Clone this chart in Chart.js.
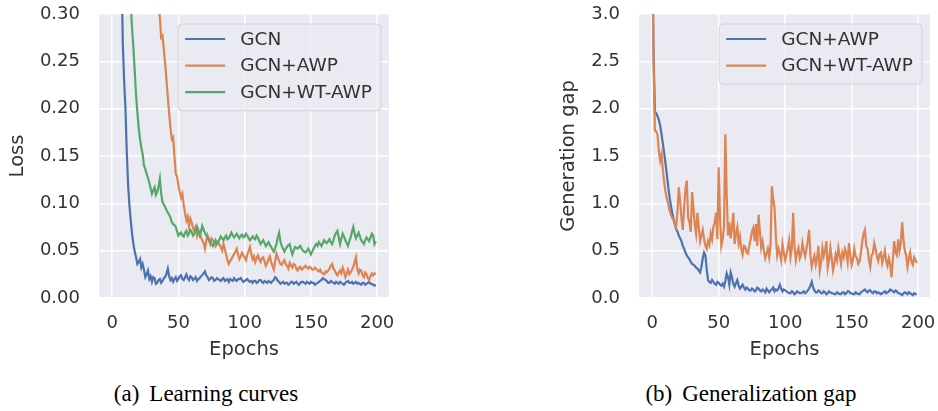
<!DOCTYPE html>
<html>
<head>
<meta charset="utf-8">
<script src="https://cdn.jsdelivr.net/npm/chart.js@4/dist/chart.umd.min.js"></script>
<style>
  html, body { margin: 0; padding: 0; background: #fff; overflow: hidden; }
  body { width: 938px; height: 411px; position: relative; }
  .panel { position: absolute; top: 0; height: 370px; }
  .caption { position: absolute; top: 382px; width: 320px; text-align: center; font-family: 'Liberation Serif', 'Times New Roman', serif; font-size: 23px; line-height: 23px; color: #000; white-space: nowrap; }
  .caption .lab { margin-right: 10px; }
</style>
</head>
<body>
<div class="panel" style="left:0;width:420px"><canvas id="chartA" width="420" height="370"></canvas></div>
<div class="panel" style="left:540px;width:410px"><canvas id="chartB" width="410" height="370"></canvas></div>
<div class="caption" style="left:46px"><span class="lab">(a)</span>Learning curves</div>
<div class="caption" style="left:591px"><span class="lab">(b)</span>Generalization gap</div>
<script>
// Epochs 0 .. 199
const epochs = [
  0, 1, 2, 3, 4, 5, 6, 7, 8, 9, 10, 11, 12, 13, 14, 15, 16, 17, 18, 19,
  20, 21, 22, 23, 24, 25, 26, 27, 28, 29, 30, 31, 32, 33, 34, 35, 36, 37, 38, 39,
  40, 41, 42, 43, 44, 45, 46, 47, 48, 49, 50, 51, 52, 53, 54, 55, 56, 57, 58, 59,
  60, 61, 62, 63, 64, 65, 66, 67, 68, 69, 70, 71, 72, 73, 74, 75, 76, 77, 78, 79,
  80, 81, 82, 83, 84, 85, 86, 87, 88, 89, 90, 91, 92, 93, 94, 95, 96, 97, 98, 99,
  100, 101, 102, 103, 104, 105, 106, 107, 108, 109, 110, 111, 112, 113, 114, 115, 116, 117, 118, 119,
  120, 121, 122, 123, 124, 125, 126, 127, 128, 129, 130, 131, 132, 133, 134, 135, 136, 137, 138, 139,
  140, 141, 142, 143, 144, 145, 146, 147, 148, 149, 150, 151, 152, 153, 154, 155, 156, 157, 158, 159,
  160, 161, 162, 163, 164, 165, 166, 167, 168, 169, 170, 171, 172, 173, 174, 175, 176, 177, 178, 179,
  180, 181, 182, 183, 184, 185, 186, 187, 188, 189, 190, 191, 192, 193, 194, 195, 196, 197, 198, 199,
];

// (a) Learning curves
const gcnLoss = [
  1.60, 1.32, 1.10, 0.91, 0.75, 0.58, 0.45, 0.35, 0.27, 0.23,
  0.201, 0.155, 0.12, 0.098, 0.082, 0.068, 0.057, 0.049, 0.043, 0.036,
  0.038, 0.041, 0.032, 0.036, 0.030, 0.022, 0.025, 0.029, 0.020, 0.023,
  0.017, 0.022, 0.021, 0.015, 0.016, 0.019, 0.020, 0.016, 0.018, 0.021,
  0.022, 0.026, 0.031, 0.023, 0.019, 0.021, 0.017, 0.020, 0.022, 0.018,
  0.020, 0.023, 0.024, 0.020, 0.019, 0.022, 0.025, 0.021, 0.019, 0.023,
  0.022, 0.019, 0.020, 0.022, 0.018, 0.020, 0.021, 0.023, 0.024, 0.026,
  0.028, 0.024, 0.022, 0.019, 0.020, 0.022, 0.021, 0.018, 0.019, 0.021,
  0.020, 0.019, 0.018, 0.020, 0.021, 0.018, 0.019, 0.020, 0.017, 0.020,
  0.019, 0.018, 0.021, 0.019, 0.018, 0.020, 0.020, 0.021, 0.019, 0.017,
  0.018, 0.019, 0.020, 0.018, 0.017, 0.018, 0.016, 0.018, 0.018, 0.016,
  0.017, 0.019, 0.019, 0.017, 0.016, 0.018, 0.017, 0.016, 0.018, 0.017,
  0.016, 0.018, 0.019, 0.022, 0.021, 0.018, 0.017, 0.015, 0.016, 0.017,
  0.015, 0.016, 0.016, 0.014, 0.015, 0.017, 0.017, 0.015, 0.016, 0.017,
  0.015, 0.014, 0.016, 0.017, 0.017, 0.016, 0.015, 0.017, 0.016, 0.015,
  0.017, 0.016, 0.016, 0.014, 0.015, 0.016, 0.017, 0.018, 0.019, 0.021,
  0.020, 0.019, 0.018, 0.016, 0.016, 0.018, 0.017, 0.016, 0.015, 0.017,
  0.016, 0.015, 0.017, 0.016, 0.015, 0.014, 0.016, 0.017, 0.018, 0.016,
  0.016, 0.017, 0.015, 0.016, 0.017, 0.015, 0.016, 0.015, 0.014, 0.016,
  0.016, 0.014, 0.015, 0.016, 0.017, 0.015, 0.015, 0.014, 0.013, 0.014,
];
const awpLoss = [
  2.40, 2.25, 2.10, 1.97, 1.85, 1.73, 1.62, 1.52, 1.42, 1.33,
  1.25, 1.17, 1.10, 1.03, 0.97, 0.91, 0.86, 0.81, 0.76, 0.71,
  0.67, 0.63, 0.60, 0.56, 0.53, 0.50, 0.48, 0.45, 0.43, 0.41,
  0.39, 0.375, 0.36, 0.34, 0.325, 0.31, 0.296, 0.275, 0.277, 0.262,
  0.247, 0.230, 0.212, 0.195, 0.180, 0.168, 0.170, 0.150, 0.131, 0.128,
  0.119, 0.112, 0.106, 0.110, 0.098, 0.090, 0.082, 0.086, 0.076, 0.084,
  0.080, 0.074, 0.071, 0.075, 0.066, 0.072, 0.069, 0.064, 0.061, 0.058,
  0.052, 0.060, 0.066, 0.061, 0.057, 0.063, 0.061, 0.058, 0.055, 0.060,
  0.059, 0.056, 0.054, 0.050, 0.057, 0.052, 0.046, 0.040, 0.036, 0.039,
  0.041, 0.044, 0.046, 0.049, 0.052, 0.046, 0.041, 0.044, 0.048, 0.045,
  0.043, 0.040, 0.046, 0.050, 0.054, 0.047, 0.041, 0.044, 0.038, 0.042,
  0.045, 0.041, 0.038, 0.042, 0.043, 0.039, 0.034, 0.037, 0.041, 0.044,
  0.038, 0.034, 0.030, 0.039, 0.047, 0.043, 0.039, 0.036, 0.035, 0.038,
  0.040, 0.036, 0.034, 0.031, 0.037, 0.034, 0.032, 0.036, 0.035, 0.031,
  0.029, 0.032, 0.033, 0.030, 0.031, 0.033, 0.034, 0.032, 0.031, 0.033,
  0.032, 0.030, 0.030, 0.032, 0.031, 0.029, 0.028, 0.030, 0.027, 0.026,
  0.025, 0.028, 0.027, 0.029, 0.031, 0.034, 0.036, 0.031, 0.029, 0.026,
  0.024, 0.027, 0.029, 0.026, 0.032, 0.028, 0.022, 0.026, 0.030, 0.025,
  0.027, 0.030, 0.033, 0.038, 0.043, 0.031, 0.026, 0.030, 0.029, 0.024,
  0.022, 0.027, 0.025, 0.021, 0.019, 0.023, 0.026, 0.024, 0.026, 0.025,
];
const wtLoss = [
  2.00, 1.73, 1.50, 1.29, 1.10, 0.94, 0.80, 0.69, 0.60, 0.52,
  0.46, 0.41, 0.37, 0.34, 0.31, 0.285, 0.265, 0.240, 0.215, 0.196,
  0.180, 0.168, 0.159, 0.152, 0.140, 0.136, 0.131, 0.127, 0.122, 0.116,
  0.110, 0.114, 0.117, 0.109, 0.112, 0.118, 0.126, 0.110, 0.101, 0.099,
  0.096, 0.093, 0.090, 0.088, 0.085, 0.080, 0.078, 0.077, 0.075, 0.070,
  0.066, 0.068, 0.069, 0.066, 0.065, 0.069, 0.071, 0.066, 0.068, 0.072,
  0.070, 0.066, 0.068, 0.071, 0.075, 0.070, 0.066, 0.070, 0.076, 0.072,
  0.069, 0.066, 0.064, 0.062, 0.059, 0.057, 0.055, 0.058, 0.061, 0.057,
  0.059, 0.062, 0.065, 0.063, 0.061, 0.064, 0.066, 0.062, 0.063, 0.066,
  0.069, 0.066, 0.064, 0.066, 0.068, 0.065, 0.063, 0.066, 0.067, 0.064,
  0.065, 0.068, 0.066, 0.063, 0.061, 0.063, 0.065, 0.063, 0.062, 0.066,
  0.064, 0.060, 0.057, 0.059, 0.061, 0.058, 0.055, 0.057, 0.059, 0.056,
  0.054, 0.051, 0.049, 0.053, 0.057, 0.064, 0.069, 0.060, 0.055, 0.052,
  0.049, 0.052, 0.054, 0.056, 0.057, 0.051, 0.046, 0.050, 0.054, 0.053,
  0.052, 0.054, 0.055, 0.052, 0.050, 0.049, 0.048, 0.050, 0.052, 0.049,
  0.046, 0.049, 0.052, 0.055, 0.057, 0.055, 0.059, 0.057, 0.055, 0.058,
  0.061, 0.059, 0.058, 0.060, 0.062, 0.059, 0.057, 0.061, 0.066, 0.069,
  0.071, 0.064, 0.057, 0.063, 0.068, 0.065, 0.061, 0.058, 0.055, 0.060,
  0.064, 0.070, 0.075, 0.068, 0.063, 0.066, 0.069, 0.065, 0.061, 0.059,
  0.057, 0.061, 0.064, 0.062, 0.060, 0.064, 0.068, 0.066, 0.057, 0.060,
];

// (b) Generalization gap
const awpGap = [
  3.80, 2.60, 1.97, 1.95, 1.92, 1.88, 1.82, 1.73, 1.63, 1.53,
  1.42, 1.30, 1.18, 1.07, 0.98, 0.90, 0.84, 0.78, 0.73, 0.70,
  0.66, 0.63, 0.60, 0.55, 0.52, 0.48, 0.45, 0.43, 0.41, 0.38,
  0.36, 0.35, 0.34, 0.32, 0.31, 0.29, 0.27, 0.33, 0.42, 0.48,
  0.45, 0.30, 0.19, 0.17, 0.16, 0.19, 0.17, 0.15, 0.14, 0.17,
  0.16, 0.14, 0.13, 0.15, 0.12, 0.18, 0.26, 0.22, 0.14, 0.27,
  0.22, 0.15, 0.12, 0.16, 0.19, 0.13, 0.10, 0.12, 0.14, 0.11,
  0.09, 0.11, 0.10, 0.08, 0.08, 0.10, 0.09, 0.07, 0.08, 0.11,
  0.10, 0.08, 0.07, 0.09, 0.08, 0.06, 0.10, 0.08, 0.06, 0.08,
  0.09, 0.11, 0.07, 0.09, 0.08, 0.10, 0.14, 0.10, 0.07, 0.09,
  0.08, 0.07, 0.06, 0.05, 0.05, 0.07, 0.06, 0.04, 0.05, 0.07,
  0.06, 0.05, 0.05, 0.06, 0.07, 0.05, 0.06, 0.08, 0.10, 0.13,
  0.17, 0.11, 0.08, 0.06, 0.06, 0.08, 0.07, 0.05, 0.05, 0.07,
  0.06, 0.04, 0.05, 0.07, 0.06, 0.05, 0.05, 0.04, 0.04, 0.06,
  0.05, 0.04, 0.04, 0.06, 0.06, 0.04, 0.05, 0.07, 0.07, 0.05,
  0.05, 0.04, 0.04, 0.06, 0.05, 0.04, 0.04, 0.06, 0.07, 0.08,
  0.09, 0.07, 0.06, 0.08, 0.08, 0.06, 0.05, 0.07, 0.07, 0.05,
  0.06, 0.05, 0.04, 0.05, 0.06, 0.07, 0.05, 0.06, 0.07, 0.09,
  0.08, 0.07, 0.06, 0.08, 0.07, 0.05, 0.05, 0.04, 0.03, 0.05,
  0.06, 0.05, 0.04, 0.06, 0.05, 0.04, 0.03, 0.05, 0.04, 0.04,
];
const wtGap = [
  3.90, 2.50, 1.77, 1.76, 1.72, 1.55, 1.45, 1.52, 1.35, 1.22,
  1.12, 1.05, 1.00, 0.93, 0.88, 0.85, 0.82, 0.78, 0.75, 0.92,
  1.17, 1.02, 0.84, 0.72, 0.96, 1.15, 1.24, 0.85, 0.80, 0.70,
  1.12, 0.95, 0.78, 0.68, 0.90, 0.75, 0.60, 0.66, 0.72, 0.62,
  0.55, 0.52, 0.60, 0.56, 0.68, 0.62, 0.75, 0.80, 0.90, 0.62,
  1.38, 0.85, 0.55, 0.62, 0.75, 1.73, 1.10, 0.66, 0.80, 0.63,
  0.75, 0.90, 0.57, 0.68, 0.75, 0.58, 0.65, 0.52, 0.46, 0.55,
  0.54, 0.48, 0.47, 0.55, 0.62, 0.70, 0.74, 0.60, 0.78, 0.55,
  0.88, 0.70, 0.53, 0.60, 0.50, 0.42, 0.47, 0.52, 0.43, 0.55,
  1.18, 1.05, 0.95, 0.65, 0.45, 0.52, 0.47, 0.40, 0.57, 0.48,
  0.40, 0.46, 0.53, 0.61, 0.43, 0.52, 0.90, 0.55, 0.40, 0.48,
  0.53, 0.42, 0.46, 0.58, 0.50, 0.44, 0.52, 0.60, 0.72, 0.45,
  0.33, 0.40, 0.45, 0.35, 0.42, 0.55, 0.29, 0.38, 0.53, 0.44,
  0.50, 0.60, 0.32, 0.40, 0.53, 0.42, 0.29, 0.36, 0.46, 0.40,
  0.53, 0.45, 0.36, 0.48, 0.43, 0.52, 0.48, 0.38, 0.58, 0.45,
  0.35, 0.41, 0.52, 0.44, 0.42, 0.36, 0.39, 0.48, 0.60, 0.68,
  0.72, 0.55, 0.52, 0.40, 0.33, 0.45, 0.47, 0.58, 0.52, 0.44,
  0.39, 0.46, 0.48, 0.37, 0.43, 0.50, 0.39, 0.34, 0.42, 0.36,
  0.22, 0.40, 0.60, 0.48, 0.45, 0.62, 0.50, 0.58, 0.80, 0.62,
  0.50, 0.45, 0.33, 0.42, 0.48, 0.38, 0.35, 0.43, 0.40, 0.37,
];

const xTicks = [0, 50, 100, 150, 200];
const lossTicks = [0, 0.05, 0.10, 0.15, 0.20, 0.25, 0.30];
const gapTicks = [0, 0.5, 1.0, 1.5, 2.0, 2.5, 3.0];

const BLUE = '#4C72B0';
const ORANGE = '#DD8452';
const GREEN = '#55A868';
const TEXT = '#333333';

Chart.defaults.font.family = "'DejaVu Sans', sans-serif";
Chart.defaults.color = TEXT;

// seaborn-style axes face
const axesBg = {
  id: 'axesBg',
  beforeDraw(chart) {
    const { ctx, chartArea: a } = chart;
    ctx.save();
    ctx.fillStyle = '#EAEAF2';
    ctx.fillRect(a.left, a.top, a.width, a.height);
    ctx.restore();
  },
};

// matplotlib-like legend box in the upper right of the axes
const boxLegend = {
  id: 'boxLegend',
  afterDraw(chart) {
    const { ctx, chartArea } = chart;
    const sets = chart.data.datasets;
    ctx.save();
    ctx.font = "18.5px 'DejaVu Sans'";
    const textW = Math.max(...sets.map((d) => ctx.measureText(d.label).width));
    const rowH = 26.6;
    const boxW = 7 + 40 + 15 + textW + 9;
    const boxH = sets.length * rowH + 7;
    const boxX = chartArea.right - 8 - boxW;
    const boxY = chartArea.top + 10;

    ctx.beginPath();
    ctx.roundRect(boxX, boxY, boxW, boxH, 4);
    ctx.fillStyle = 'rgba(234, 234, 242, 0.8)';
    ctx.fill();
    ctx.strokeStyle = 'rgba(204, 204, 204, 0.8)';
    ctx.lineWidth = 1;
    ctx.stroke();

    sets.forEach((d, i) => {
      const cy = boxY + 15 + i * rowH;
      ctx.strokeStyle = d.borderColor;
      ctx.lineWidth = d.borderWidth;
      ctx.beginPath();
      ctx.moveTo(boxX + 7, cy);
      ctx.lineTo(boxX + 47, cy);
      ctx.stroke();
      ctx.fillStyle = TEXT;
      ctx.textAlign = 'left';
      ctx.textBaseline = 'middle';
      ctx.fillText(d.label, boxX + 62, cy + 1);
    });
    ctx.restore();
  },
};

function series(label, values, color, order) {
  return {
    label,
    data: epochs.map((e, i) => ({ x: e, y: values[i] })),
    borderColor: color,
    borderWidth: 2.2,
    pointRadius: 0,
    tension: 0,
    clip: 0,
    order,
  };
}

function makeChart(id, datasets, yMax, yTicks, decimals, yTitle, titlePad, rightPad) {
  return new Chart(document.getElementById(id), {
    type: 'line',
    data: { datasets },
    options: {
      responsive: false,
      animation: false,
      layout: { padding: { top: 14, right: rightPad, left: 0, bottom: 0 } },
      plugins: { legend: { display: false }, tooltip: { enabled: false } },
      scales: {
        x: {
          type: 'linear',
          min: -9.95,
          max: 208.95,
          afterBuildTicks: (s) => { s.ticks = xTicks.map((v) => ({ value: v })); },
          afterFit: (s) => { s.height = 72; s.paddingLeft = 0; s.paddingRight = 0; },
          grid: { color: '#ffffff', lineWidth: 1.5, drawTicks: false },
          border: { display: false },
          ticks: { padding: 15, color: TEXT, font: { size: 18 }, maxRotation: 0, autoSkip: false },
          title: { display: true, text: 'Epochs', color: TEXT, font: { size: 19.5 }, padding: { top: 0, bottom: 8 } },
        },
        y: {
          min: 0,
          max: yMax,
          afterBuildTicks: (s) => { s.ticks = yTicks.map((v) => ({ value: v })); },
          afterFit: (s) => { s.width = 99; s.paddingTop = 0; s.paddingBottom = 0; },
          grid: { color: '#ffffff', lineWidth: 1.5, drawTicks: false },
          border: { display: false },
          ticks: { padding: 19, color: TEXT, font: { size: 18 }, callback: (v) => v.toFixed(decimals) },
          title: { display: true, text: yTitle, color: TEXT, font: { size: 19.5 }, padding: { top: titlePad, bottom: 0 } },
        },
      },
    },
    plugins: [axesBg, boxLegend],
  });
}

makeChart('chartA', [
  series('GCN', gcnLoss, BLUE, 3),
  series('GCN+AWP', awpLoss, ORANGE, 2),
  series('GCN+WT-AWP', wtLoss, GREEN, 1),
], 0.3, lossTicks, 2, 'Loss', 6, 31);

makeChart('chartB', [
  series('GCN+AWP', awpGap, BLUE, 2),
  series('GCN+WT-AWP', wtGap, ORANGE, 1),
], 3.0, gapTicks, 1, 'Generation gap', 17, 20);
</script>
</body>
</html>
